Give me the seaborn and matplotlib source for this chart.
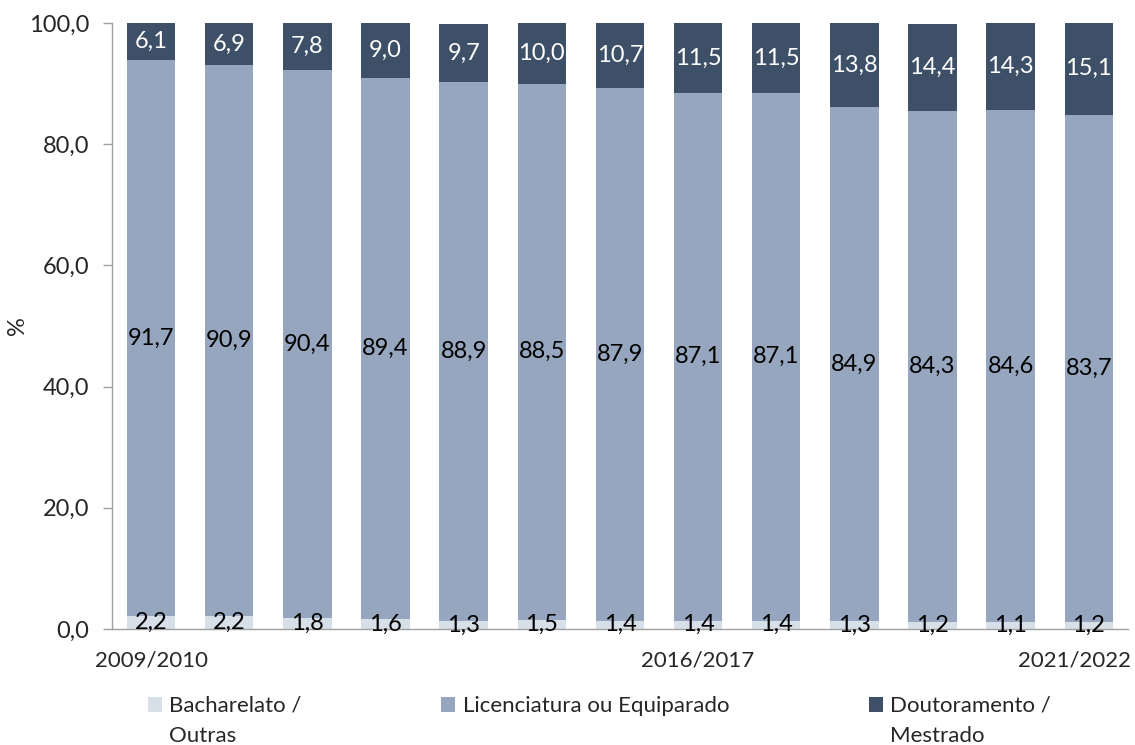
import matplotlib
matplotlib.use("Agg")
import matplotlib.pyplot as plt
import seaborn as sns
import pandas as pd
from matplotlib.patches import Patch
from matplotlib.ticker import FixedLocator

years = ["2009/2010", "2010/2011", "2011/2012", "2012/2013", "2013/2014", "2014/2015",
         "2015/2016", "2016/2017", "2017/2018", "2018/2019", "2019/2020", "2020/2021", "2021/2022"]
bacharelato = [2.2, 2.2, 1.8, 1.6, 1.3, 1.5, 1.4, 1.4, 1.4, 1.3, 1.2, 1.1, 1.2]
licenciatura = [91.7, 90.9, 90.4, 89.4, 88.9, 88.5, 87.9, 87.1, 87.1, 84.9, 84.3, 84.6, 83.7]
doutoramento = [6.1, 6.9, 7.8, 9.0, 9.7, 10.0, 10.7, 11.5, 11.5, 13.8, 14.4, 14.3, 15.1]
shown_years = ["2009/2010", "2016/2017", "2021/2022"]
legend_first = ["Bacharelato /", "Licenciatura ou Equiparado", "Doutoramento /"]
legend_second = ["Outras", "", "Mestrado"]

c_light = "#D7DFE9"
c_mid = "#95A6BE"
c_dark = "#3E5068"

sns.set_style("white")
plt.rcParams["font.family"] = ["Lato", "DejaVu Sans"]

df = pd.DataFrame({"year": years, "b": bacharelato, "l": licenciatura, "d": doutoramento})
bottom_l = df["b"]
bottom_d = df["b"] + df["l"]

fig = plt.figure(figsize=(11.35, 7.45), dpi=100)
ax = fig.add_axes([0.0987, 0.1557, 0.895, 0.8133])

w = 0.62
sns.barplot(data=df, x="year", y="b", color=c_light, width=w, saturation=1, linewidth=0, ax=ax)
sns.barplot(data=df, x="year", y="l", bottom=bottom_l, color=c_mid, width=w, saturation=1,
            linewidth=0, ax=ax)
sns.barplot(data=df, x="year", y="d", bottom=bottom_d, color=c_dark, width=w, saturation=1,
            linewidth=0, ax=ax)

fmt = lambda v: f"{v:.1f}".replace(".", ",")
conts = ax.containers
ax.bar_label(conts[0], labels=[fmt(v) for v in bacharelato], label_type="center",
             fontsize=17, color="black")
ax.bar_label(conts[1], labels=[fmt(v) for v in licenciatura], label_type="center",
             fontsize=17, color="black")
ax.bar_label(conts[2], labels=[fmt(v) for v in doutoramento], label_type="center",
             fontsize=17, color="white")

ax.set_xlim(-0.5, len(years) - 0.5)
ax.set_ylim(0, 100)
ax.set_yticks([0, 20, 40, 60, 80, 100])
ax.set_yticklabels([fmt(v) for v in [0, 20, 40, 60, 80, 100]], fontsize=17)
# category boundaries carry the tick marks; year labels are drawn separately
ax.set_xticks([i - 0.5 for i in range(len(years) + 1)])
ax.set_xticklabels([])
ax.tick_params(axis="x", length=6, color="#A0A0A0", width=1, direction="out")
ax.tick_params(axis="y", length=6.5, color="#A0A0A0", width=1, direction="out", left=True, pad=10)
ax.set_xlabel("")
ax.set_ylabel("%", fontsize=17)
ax.yaxis.set_label_coords(-0.083, 0.5)

for lab in shown_years:
    i = years.index(lab)
    if i == len(years) - 1:
        ax.annotate(lab, xy=(i + 0.5, 0), xycoords=("data", "axes fraction"),
                    xytext=(3, -31), textcoords="offset pixels", ha="right", va="center",
                    fontsize=16, annotation_clip=False)
    else:
        ax.annotate(lab, xy=(i, 0), xycoords=("data", "axes fraction"),
                    xytext=(0, -31), textcoords="offset pixels", ha="center", va="center",
                    fontsize=16, annotation_clip=False)

for s in ["top", "right"]:
    ax.spines[s].set_visible(False)
for s in ["left", "bottom"]:
    ax.spines[s].set_color("#A0A0A0")
    ax.spines[s].set_linewidth(1)

handles = [Patch(facecolor=c, edgecolor="none") for c in (c_light, c_mid, c_dark)]
leg = fig.legend(handles, legend_first, loc="center left", bbox_to_anchor=(0.130, 1 - 706 / 745),
                 ncol=3, frameon=False, fontsize=16, handlelength=0.64, handleheight=0.64,
                 handletextpad=0.32, columnspacing=6.3, borderpad=0, borderaxespad=0)

fig.canvas.draw()
renderer = fig.canvas.get_renderer()
inv = fig.transFigure.inverted()
for t, extra in zip(leg.get_texts(), legend_second):
    if not extra:
        continue
    bb = t.get_window_extent(renderer)
    x0, yc = inv.transform((bb.x0, (bb.y0 + bb.y1) / 2))
    fig.text(x0, yc - 30 / 745, extra, fontsize=16, ha="left", va="center")

fig.savefig("out.png", dpi=100)
